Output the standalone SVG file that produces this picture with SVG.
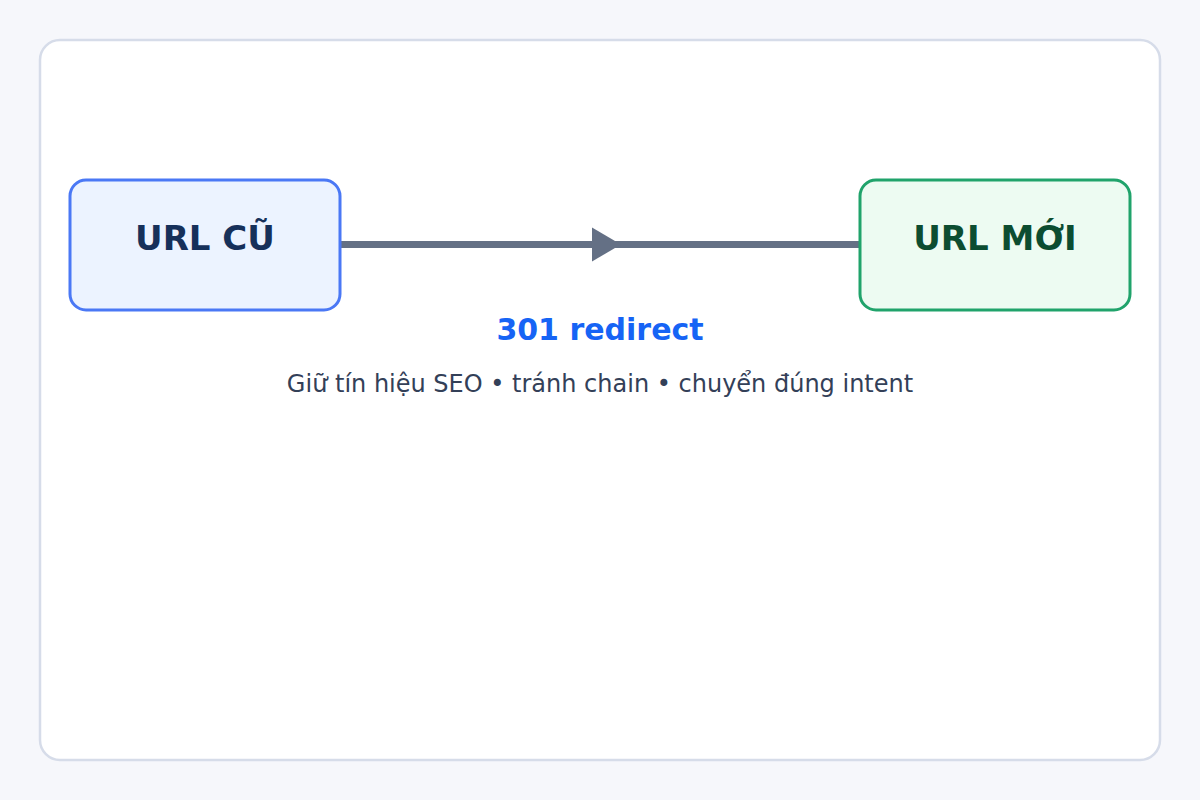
<svg xmlns="http://www.w3.org/2000/svg" width="1200" height="800" viewBox="0 0 1200 800">
<style>
.node-title{font-family:"DejaVu Sans","Liberation Sans",sans-serif;font-weight:bold;font-size:34px;text-anchor:middle}
.label{font-family:"DejaVu Sans","Liberation Sans",sans-serif;font-weight:bold;font-size:30px;fill:#1664f5;text-anchor:middle}
.sub{font-family:"DejaVu Sans","Liberation Sans",sans-serif;font-size:24px;fill:#334058;text-anchor:middle}
</style>
<rect x="0" y="0" width="1200" height="800" fill="#f6f7fb"/>
<rect x="40" y="40" width="1120" height="720" rx="20" fill="#ffffff" stroke="#d6dce9" stroke-width="2.5"/>
<g id="connectors">
<line x1="340" y1="244.5" x2="860" y2="244.5" stroke="#647085" stroke-width="7"/>
<polygon points="592,227.5 621,244.5 592,261.5" fill="#647085"/>
</g>
<g id="node-old">
<rect x="70" y="180" width="270" height="130" rx="16" fill="#ecf3ff" stroke="#4a78f5" stroke-width="3"/>
<text class="node-title" x="205" y="250" fill="#16305a">URL CŨ</text>
</g>
<g id="node-new">
<rect x="860" y="180" width="270" height="130" rx="16" fill="#edfbf2" stroke="#20a36b" stroke-width="3"/>
<text class="node-title" x="995" y="250" fill="#0c4d31">URL MỚI</text>
</g>
<g id="labels">
<text class="label" x="600" y="340">301 redirect</text>
<text class="sub" x="600" y="392">Giữ tín hiệu SEO • tránh chain • chuyển đúng intent</text>
</g>
</svg>
